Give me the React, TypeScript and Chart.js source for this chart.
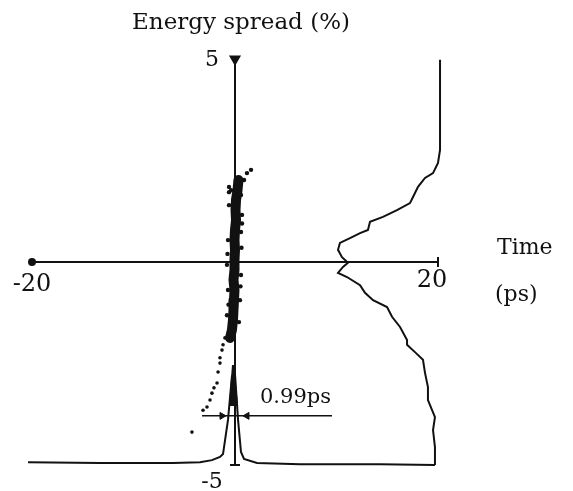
import React, { useEffect, useRef } from "react";
import { Chart, registerables } from "chart.js";

Chart.register(...registerables);

// Axis extents
const timeRange = [-20, 20];
const energyRange = [-5, 5];
const timeTickLabels = ["-20", "20"];
const energyTickLabels = ["5", "-5"];

// Bunch-length profile along the bottom (time ps, drawn at energy level)
const bunchTime = [-20.39, -13.3, -6.11, -3.45, -2.27, -1.48, -1.18, -0.69, -0.3, 0.0, 0.3, 0.59, 0.89, 2.17, 6.4, 14.29, 19.7];
const bunchLevel = [-4.93, -4.95, -4.95, -4.93, -4.88, -4.8, -4.73, -3.89, -2.81, -2.76, -3.89, -4.68, -4.85, -4.95, -4.98, -4.98, -5.0];

// Energy spectrum profile on the right (intensity drawn in time units, energy %)
const spectrumLevel = [20.2, 20.2, 20.0, 19.51, 18.72, 18.03, 17.54, 17.24, 15.96, 14.58, 13.3, 13.1, 12.32, 11.33, 10.34, 10.15, 10.54, 11.13, 10.64, 10.15, 11.03, 12.32, 12.81, 13.6, 14.98, 15.47, 16.26, 16.95, 16.95, 17.73, 18.52, 18.72, 19.01, 19.01, 19.7, 19.51, 19.7, 19.7];
const spectrumEnergy = [4.98, 2.76, 2.44, 2.19, 2.07, 1.85, 1.6, 1.45, 1.28, 1.11, 0.99, 0.79, 0.71, 0.59, 0.47, 0.3, 0.12, -0.02, -0.12, -0.27, -0.37, -0.57, -0.76, -0.94, -1.11, -1.35, -1.6, -1.92, -2.04, -2.22, -2.41, -2.73, -3.08, -3.4, -3.82, -4.14, -4.56, -5.0];

// Particle cloud centre line (time ps, energy %)
const cloudTime = [0.34, 0.25, 0.1, 0.05, 0.1, 0.0, -0.05, 0.0, -0.05, -0.05, -0.15, -0.05, -0.1, -0.15, -0.2, -0.3, -0.49];
const cloudEnergy = [2.02, 1.77, 1.53, 1.28, 1.03, 0.79, 0.54, 0.3, 0.05, -0.2, -0.44, -0.69, -0.94, -1.18, -1.43, -1.67, -1.87];

// Particle cloud edge particles
const edgeTime = [-0.59, 0.69, -0.69, 0.59, -0.79, 0.59, -0.69, 0.49, -0.79, 0.39, 0.59, -0.39, 1.18, 1.58, 0.89, -0.59, -0.59, 0.64, -0.74, 0.54, -0.64, 0.69];
const edgeEnergy = [1.4, 1.16, 0.54, 0.74, -0.07, -0.32, -0.69, -0.94, -1.31, -1.48, 1.65, 1.77, 2.19, 2.27, 2.02, 1.72, 1.85, 0.35, 0.2, -0.6, -1.05, 0.95];

// Tail particles
const tailTime = [-0.99, -1.18, -1.28, -1.48, -1.48, -1.67, -1.77, -2.07, -2.27, -2.46, -2.76, -3.15, -4.24];
const tailEnergy = [-1.87, -2.04, -2.17, -2.36, -2.49, -2.71, -2.98, -3.1, -3.23, -3.4, -3.57, -3.65, -4.19];

// Dense core of the peak
const coreTime = [-0.2, -0.49, 0.2, -0.2];
const coreEnergy = [-2.54, -3.52, -3.52, -2.54];

// FWHM marker
const fwhmLabel = "0.99ps";
const fwhmTime = [-3.25, 9.56];
const fwhmEnergy = [-3.79, -3.79];
const fwhmArrowTime = [-1.28, 1.18];

const pairs = (xs: number[], ys: number[]) => xs.map((x, i) => ({ x, y: ys[i] }));

const FONT = '"DejaVu Serif", "Liberation Serif", serif';

const textPlugin = {
  id: "textLabels",
  afterDraw(chart: any) {
    const ctx = chart.ctx;
    const xs = chart.scales.x;
    const ys = chart.scales.y;
    const x0 = xs.getPixelForValue(0);
    const y0 = ys.getPixelForValue(0);
    ctx.save();
    ctx.fillStyle = "#111";
    ctx.font = `24px ${FONT}`;
    ctx.textAlign = "center";
    ctx.textBaseline = "middle";
    ctx.fillText(timeTickLabels[0], xs.getPixelForValue(timeRange[0]), y0 + 23);
    ctx.fillText(timeTickLabels[1], xs.getPixelForValue(timeRange[1]) - 6, y0 + 19);
    ctx.font = `22px ${FONT}`;
    ctx.fillText(energyTickLabels[0], x0 - 23, ys.getPixelForValue(energyRange[1]) + 1);
    ctx.fillText(energyTickLabels[1], x0 - 23, ys.getPixelForValue(energyRange[0]) + 17);
    ctx.font = `23px ${FONT}`;
    ctx.textBaseline = "alphabetic";
    ctx.fillText("Energy spread (%)", x0 + 6, ys.getPixelForValue(energyRange[1]) - 30);
    ctx.textAlign = "left";
    ctx.font = `22px ${FONT}`;
    ctx.fillText("Time", xs.getPixelForValue(timeRange[1]) + 59, y0 - 8);
    ctx.textBaseline = "middle";
    ctx.fillText("(ps)", xs.getPixelForValue(timeRange[1]) + 57, y0 + 33);
    ctx.font = `21px ${FONT}`;
    ctx.textBaseline = "alphabetic";
    ctx.fillText(fwhmLabel, x0 + 25, ys.getPixelForValue(fwhmEnergy[0]) - 13);
    ctx.restore();
  },
};

export default function App() {
  const ref = useRef<HTMLCanvasElement | null>(null);
  useEffect(() => {
    if (!ref.current) return;
    const black = "#111";
    const chart = new Chart(ref.current, {
      type: "line",
      data: {
        datasets: [
          {
            data: [{ x: timeRange[0], y: 0 }, { x: timeRange[1], y: 0 }],
            borderColor: black,
            backgroundColor: black,
            borderWidth: 2,
            pointStyle: ["circle", "line"] as any,
            pointRotation: [0, 90] as any,
            pointRadius: [3, 5] as any,
            pointBorderWidth: 2,
            clip: false as any,
          },
          {
            data: [{ x: 0, y: energyRange[1] }, { x: 0, y: energyRange[0] }],
            borderColor: black,
            backgroundColor: black,
            borderWidth: 2,
            pointStyle: ["triangle", "line"] as any,
            pointRotation: [180, 0] as any,
            pointRadius: [5, 5] as any,
            pointBorderWidth: 2,
            clip: false as any,
          },
          {
            data: pairs(bunchTime, bunchLevel),
            borderColor: black,
            borderWidth: 2,
            pointRadius: 0,
            tension: 0,
            clip: false as any,
          },
          {
            data: pairs(spectrumLevel, spectrumEnergy),
            borderColor: black,
            borderWidth: 2,
            pointRadius: 0,
            tension: 0,
            clip: false as any,
          },
          {
            data: pairs(coreTime, coreEnergy),
            borderColor: black,
            backgroundColor: black,
            borderWidth: 2,
            pointRadius: 0,
            fill: "shape" as any,
            clip: false as any,
          },
          {
            data: pairs(cloudTime, cloudEnergy),
            borderColor: black,
            borderWidth: 10,
            borderCapStyle: "round",
            borderJoinStyle: "round",
            pointRadius: 0,
            tension: 0,
            clip: false as any,
          },
          {
            data: pairs(edgeTime, edgeEnergy),
            showLine: false,
            backgroundColor: black,
            borderColor: black,
            pointRadius: 2.2,
            pointBorderWidth: 0,
            clip: false as any,
          },
          {
            data: pairs(tailTime, tailEnergy),
            showLine: false,
            backgroundColor: black,
            borderColor: black,
            pointRadius: 1.8,
            pointBorderWidth: 0,
            clip: false as any,
          },
          {
            data: pairs(fwhmTime, fwhmEnergy),
            borderColor: black,
            borderWidth: 1.5,
            pointRadius: 0,
            clip: false as any,
          },
          {
            data: pairs(fwhmArrowTime, fwhmEnergy),
            showLine: false,
            backgroundColor: black,
            borderColor: black,
            pointStyle: "triangle",
            pointRotation: [90, -90] as any,
            pointRadius: 4,
            pointBorderWidth: 1,
            clip: false as any,
          },
        ],
      },
      options: {
        animation: false,
        responsive: false,
        devicePixelRatio: 1,
        layout: { padding: { left: 32, right: 135, top: 59, bottom: 26 } },
        plugins: { legend: { display: false }, tooltip: { enabled: false } },
        scales: {
          x: { type: "linear", min: timeRange[0], max: timeRange[1], display: false },
          y: { type: "linear", min: energyRange[0], max: energyRange[1], display: false },
        },
      },
      plugins: [textPlugin],
    });
    return () => chart.destroy();
  }, []);
  return (
    <div style={{ position: "absolute", left: 0, top: 0, width: 573, height: 491, background: "#fff" }}>
      <canvas ref={ref} width={573} height={491} style={{ width: 573, height: 491 }} />
    </div>
  );
}
